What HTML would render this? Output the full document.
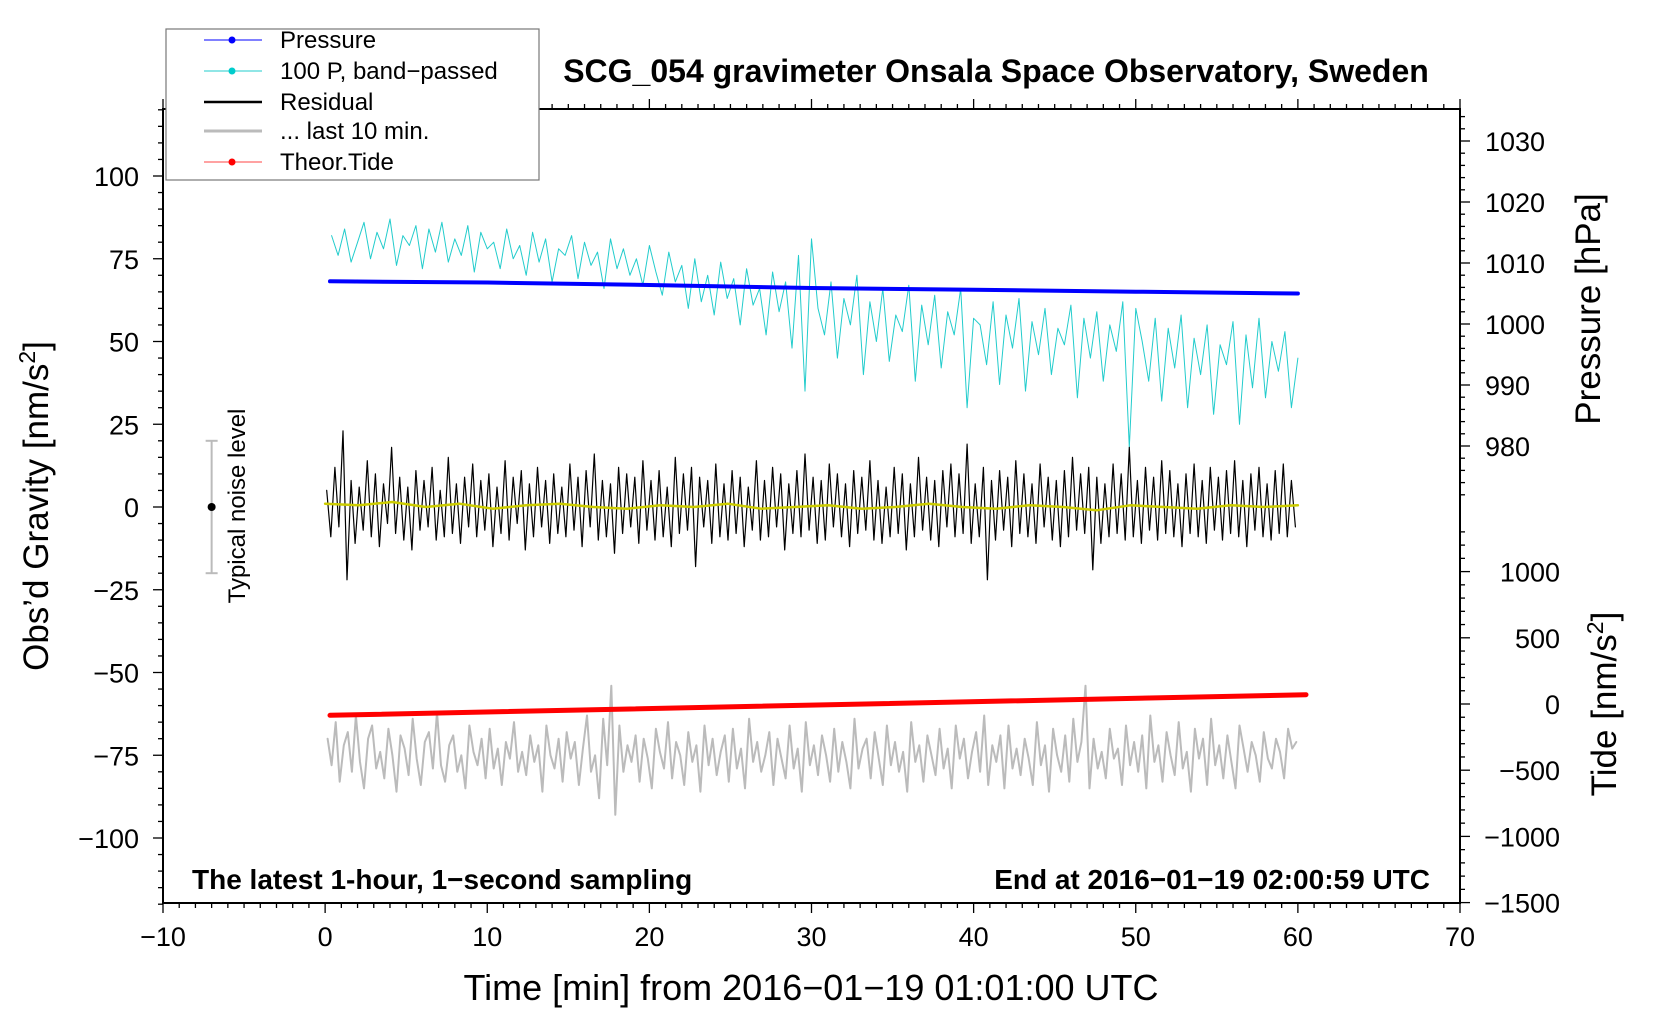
<!DOCTYPE html>
<html><head><meta charset="utf-8"><style>
body{margin:0;background:#fff;}
svg{display:block;font-family:"Liberation Sans",sans-serif;}
</style></head><body>
<svg id="chart" width="1660" height="1020" viewBox="0 0 1660 1020">
<rect width="1660" height="1020" fill="#fff"/>
<g id="plot"></g>
<g id="axes"></g>
<text x="996" y="82" text-anchor="middle" font-size="32" font-weight="bold">SCG_054 gravimeter Onsala Space Observatory, Sweden</text>
<text x="811" y="1000" text-anchor="middle" font-size="36">Time [min] from 2016−01−19 01:01:00 UTC</text>
<text transform="translate(48,506) rotate(-90)" text-anchor="middle" font-size="35">Obs’d Gravity [nm/s<tspan font-size="23" dy="-13">2</tspan><tspan dy="13">]</tspan></text>
<text transform="translate(1600,309) rotate(-90)" text-anchor="middle" font-size="35">Pressure [hPa]</text>
<text transform="translate(1616,704) rotate(-90)" text-anchor="middle" font-size="35">Tide [nm/s<tspan font-size="23" dy="-13">2</tspan><tspan dy="13">]</tspan></text>
<text x="192" y="889" font-size="28" font-weight="bold">The latest 1-hour, 1−second sampling</text>
<text x="1430" y="889" text-anchor="end" font-size="28" font-weight="bold">End at 2016−01−19 02:00:59 UTC</text>
<text transform="translate(245,506) rotate(-90)" text-anchor="middle" font-size="24">Typical noise level</text>
<g>
<rect x="166" y="29" width="373" height="151" fill="#fff" stroke="#777" stroke-width="1.2"/>
<g><line x1="204" y1="40" x2="262" y2="40" stroke="#00f"/><circle cx="232" cy="40" r="3.5" fill="#00f"/><text x="280" y="48" font-size="24">Pressure</text></g>
<g><line x1="204" y1="71" x2="262" y2="71" stroke="#2cc"/><circle cx="232" cy="71" r="3.5" fill="#0cc"/><text x="280" y="79" font-size="24">100 P, band−passed</text></g>
<g><line x1="204" y1="102" x2="262" y2="102" stroke="#000" stroke-width="2.5"/><text x="280" y="110" font-size="24">Residual</text></g>
<g><line x1="204" y1="131" x2="262" y2="131" stroke="#bbb" stroke-width="3"/><text x="280" y="139" font-size="24">... last 10 min.</text></g>
<g><line x1="204" y1="162" x2="262" y2="162" stroke="#f44"/><circle cx="232" cy="162" r="3.5" fill="#f00"/><text x="280" y="170" font-size="24">Theor.Tide</text></g>
</g>
</svg>
<script>
const pressTimes=[0.3,10,20,30,40,50,60];
const pressVals=[1007,1006.8,1006.4,1005.9,1005.6,1005.3,1005.0];
const tideTimes=[0.3,60.5];
const tideVals=[-85,70];
const cyanVals=[82,76,84,74,80,86,75,83,78,87,73,82,79,85,72,84,77,86,74,81,76,85,71,83,78,
80,72,84,75,79,70,83,74,81,68,78,76,82,69,80,73,77,66,81,72,78,70,75,67,79,
71,64,77,68,73,60,75,62,70,58,74,63,69,55,72,61,66,52,71,59,68,48,76,35,81,
60,52,68,45,63,55,70,40,62,50,66,44,58,53,67,38,61,49,64,42,59,52,66,30,57,
55,43,62,37,58,48,63,35,56,46,60,40,54,49,61,33,57,45,59,38,55,47,62,18,60,
50,38,57,32,54,42,58,30,51,40,55,28,49,43,56,25,52,36,57,33,50,41,53,30,45];
const residVals=[5,-9,12,-6,23,-22,8,-11,6,-7,14,-9,10,-12,7,-5,18,-8,9,-10,
6,-13,11,-7,8,-6,12,-10,5,-9,15,-8,7,-11,9,-6,13,-9,8,-7,
10,-12,6,-8,14,-10,9,-5,11,-13,7,-9,12,-6,8,-11,10,-8,6,-9,
13,-7,9,-12,11,-6,16,-10,8,-9,7,-14,12,-8,10,-6,9,-11,14,-7,
8,-10,11,-9,6,-12,15,-8,10,-7,12,-18,9,-6,8,-11,13,-9,7,-10,
11,-8,9,-12,6,-7,14,-10,8,-9,12,-6,10,-13,7,-8,11,-9,16,-7,
9,-11,8,-10,13,-6,10,-9,7,-12,11,-8,9,-7,14,-10,8,-11,6,-9,
12,-8,10,-13,7,-9,15,-7,9,-10,8,-12,11,-6,13,-9,10,-8,19,-11,
7,-9,12,-22,8,-10,11,-7,9,-12,14,-8,10,-9,7,-11,13,-6,9,-10,
8,-12,11,-9,15,-7,10,-8,12,-19,9,-11,7,-9,13,-8,10,-10,18,-9,
8,-11,12,-7,9,-10,14,-8,11,-9,7,-12,10,-8,13,-9,8,-11,12,-7,
9,-10,11,-8,14,-9,8,-12,10,-7,12,-9,7,-10,11,-8,13,-9,8,-6];
const smoothVals=[1,0.5,1.5,0,1,-0.5,0.5,1,0,-0.5,0.5,0,1,-0.5,0,0.5,-0.5,0,1,0,-0.5,0.5,0,-1,0.5,0,-0.5,0.5,0,0.5];
const grayVals=[-70,-78,-65,-83,-72,-68,-80,-63,-77,-85,-70,-66,-79,-74,-82,-67,-75,-86,-69,-73,
-81,-64,-76,-84,-71,-68,-79,-62,-78,-83,-72,-69,-80,-75,-85,-66,-74,-78,-70,-82,
-67,-79,-73,-84,-71,-76,-65,-80,-74,-81,-69,-77,-72,-86,-66,-75,-79,-70,-83,-68,
-76,-71,-84,-73,-63,-80,-75,-88,-64,-78,-54,-93,-66,-80,-72,-77,-69,-83,-70,-76,
-85,-67,-74,-79,-65,-82,-71,-75,-84,-68,-77,-72,-86,-66,-78,-70,-81,-74,-69,-83,
-67,-79,-73,-85,-64,-77,-71,-80,-75,-68,-84,-70,-76,-82,-66,-79,-73,-86,-65,-78,
-72,-81,-69,-75,-83,-67,-80,-71,-77,-85,-64,-79,-73,-70,-82,-68,-76,-84,-66,-78,
-71,-80,-74,-86,-65,-77,-72,-83,-69,-75,-81,-67,-79,-73,-85,-66,-76,-70,-82,-74,
-68,-80,-63,-84,-72,-77,-69,-85,-66,-79,-73,-81,-70,-76,-84,-65,-78,-72,-86,-67,
-75,-80,-69,-83,-64,-77,-71,-54,-85,-70,-79,-74,-82,-67,-76,-73,-84,-66,-78,-71,
-80,-69,-85,-63,-77,-72,-83,-68,-75,-81,-65,-79,-74,-86,-67,-76,-70,-84,-64,-78,
-72,-82,-69,-77,-85,-66,-73,-80,-71,-75,-83,-68,-76,-79,-70,-74,-82,-67,-73,-71];
const xTicks=[-10,0,10,20,30,40,50,60,70];
const gTicks=[-100,-75,-50,-25,0,25,50,75,100];
const pTicks=[980,990,1000,1010,1020,1030];
const tTicks=[-1500,-1000,-500,0,500,1000];

const NS='http://www.w3.org/2000/svg';
const L=163,R=1460,T=109,B=903;
const xs=t=>L+(t+10)*(R-L)/80;
const yg=v=>507-v*3.31;
const yp=p=>141+(1030-p)*6.1;
const yt=v=>704-v*0.1324;
const plot=document.getElementById('plot'),axes=document.getElementById('axes');
function el(tag,attrs,parent){const e=document.createElementNS(NS,tag);for(const k in attrs)e.setAttribute(k,attrs[k]);parent.appendChild(e);return e;}
function poly(pts,stroke,w,name){
  const e=el('polyline',{points:pts.map(p=>p[0].toFixed(1)+','+p[1].toFixed(1)).join(' '),fill:'none',stroke:stroke,'stroke-width':w,'stroke-linejoin':'round','stroke-linecap':'round'},plot);
  
  
}
poly(cyanVals.map((v,i)=>[xs(0.4*(i+1)),yg(v)]),'#2cc',1,'bandpassed-pressure-line');
poly(pressTimes.map((t,i)=>[xs(t),yp(pressVals[i])]),'#00f',4,'pressure-line');
poly(residVals.map((v,i)=>[xs(0.25*i+0.1),yg(v)]),'#000',1.2,'residual-line');
poly(smoothVals.map((v,i)=>[xs(i*60/29),yg(v)]),'#cc0',2.5,'residual-smoothed-line');
poly(grayVals.map((v,i)=>[xs(0.25*i+0.15),yg(v)]),'#bbb',2,'last-10-min-line');
poly(tideTimes.map((t,i)=>[xs(t),yt(tideVals[i])]),'#f00',5,'theoretical-tide-line');
const nb=el('g',{},plot);


el('line',{x1:xs(-7),x2:xs(-7),y1:yg(20),y2:yg(-20),stroke:'#bbb','stroke-width':2},nb);
el('line',{x1:xs(-7)-6,x2:xs(-7)+6,y1:yg(20),y2:yg(20),stroke:'#bbb','stroke-width':2},nb);
el('line',{x1:xs(-7)-6,x2:xs(-7)+6,y1:yg(-20),y2:yg(-20),stroke:'#bbb','stroke-width':2},nb);
el('circle',{cx:xs(-7),cy:yg(0),r:4,fill:'#000'},nb);
const fr=el('rect',{x:L,y:T,width:R-L,height:B-T,fill:'none',stroke:'#000','stroke-width':2},axes);


function tick(x1,y1,x2,y2){el('line',{x1,y1,x2,y2,stroke:'#000','stroke-width':1.3},axes);}
for(let t=-10;t<=70;t++){const x=xs(t),len=t%10===0?10:5;tick(x,B,x,B+len);tick(x,T,x,T-len);}
xTicks.forEach(t=>{const e=el('text',{x:xs(t),y:B+43,'text-anchor':'middle','font-size':27},axes);e.textContent=(t<0?'−':'')+Math.abs(t);

});
for(let v=-120;v<=120;v+=5){const y=yg(v),len=v%25===0?10:5;tick(L,y,L-len,y);}
gTicks.forEach(v=>{const e=el('text',{x:L-24,y:yg(v)+10,'text-anchor':'end','font-size':27},axes);e.textContent=(v<0?'−':'')+Math.abs(v);

});
for(let p=972;p<=1034;p+=2){const y=yp(p);if(y<T)continue;const len=p%10===0?10:5;tick(R,y,R+len,y);}
pTicks.forEach(p=>{const e=el('text',{x:1485,y:yp(p)+10,'text-anchor':'start','font-size':27},axes);e.textContent=p;

});
for(let v=-1500;v<=1300;v+=100){const y=yt(v);const len=v%500===0?10:5;tick(R,y,R+len,y);}
tTicks.forEach(v=>{const e=el('text',{x:1560,y:yt(v)+10,'text-anchor':'end','font-size':27},axes);e.textContent=(v<0?'−':'')+Math.abs(v);

});
</script>
</body></html>
